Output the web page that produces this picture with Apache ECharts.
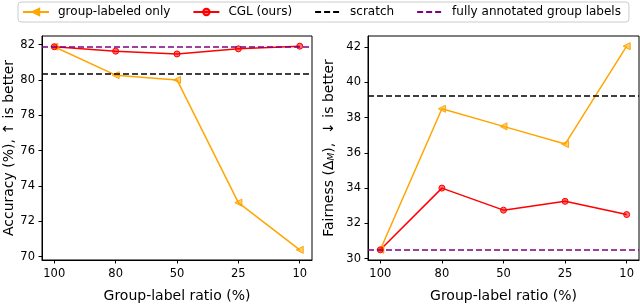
<!DOCTYPE html>
<html>
<head>
<meta charset="utf-8">
<script src="https://cdn.jsdelivr.net/npm/echarts@6/dist/echarts.min.js"></script>
<style>
html,body{margin:0;padding:0;background:#fff;}
#c{width:640px;height:308px;}
</style>
</head>
<body>
<div id="c"></div>
<script>
const ratios = ['100', '80', '50', '25', '10'];
const accOnly = [81.88, 80.27, 80.0, 73.05, 70.38];
const accCGL = [81.88, 81.63, 81.47, 81.76, 81.91];
const accScratch = 80.37;
const accFull = 81.87;
const fairOnly = [30.5, 38.5, 37.5, 36.5, 42.05];
const fairCGL = [30.5, 34.0, 32.75, 33.25, 32.5];
const fairScratch = 39.25;
const fairFull = 30.5;
const accTicks = [70, 72, 74, 76, 78, 80, 82];
const fairTicks = [30, 32, 34, 36, 38, 40, 42];

const FONT = 'DejaVu Sans';
const ORANGE = '#FFA500', RED = '#FF0000', BLACK = '#000000', PURPLE = '#800080';
const ORANGE_FILL = 'rgba(255,165,0,0.55)', RED_FILL = 'rgba(255,0,0,0.55)';
const TICKF = 11.5, TITLEF = 14;

function range(arrs) {
  const all = [].concat(...arrs);
  const lo = Math.min(...all), hi = Math.max(...all);
  const m = (hi - lo) * 0.05;
  return [lo - m, hi + m];
}
const accRange = range([accOnly, accCGL, [accScratch, accFull]]);
const fairRange = range([fairOnly, fairCGL, [fairScratch, fairFull]]);
const xIdx = ratios.map((_, i) => i);

function xAxis(gi) {
  return {
    type: 'value', gridIndex: gi, min: -0.2, max: 4.2,
    splitLine: {show: false},
    axisLine: {show: true, onZero: false, lineStyle: {color: BLACK, width: 1}},
    axisTick: {show: true, customValues: xIdx, length: 3.5, lineStyle: {color: BLACK, width: 1}},
    axisLabel: {customValues: xIdx, formatter: v => ratios[Math.round(v)], color: '#000', fontFamily: FONT, fontSize: TICKF, margin: 8},
    name: 'Group-label ratio (%)', nameLocation: 'middle', nameGap: 29,
    nameTextStyle: {color: '#000', fontFamily: FONT, fontSize: TITLEF}
  };
}
function yAxis(gi, r, ticks, name, gap, rich) {
  const o = {
    type: 'value', gridIndex: gi, min: r[0], max: r[1],
    splitLine: {show: false},
    axisLine: {show: true, onZero: false, lineStyle: {color: BLACK, width: 1}},
    axisTick: {show: true, customValues: ticks, length: 3.5, lineStyle: {color: BLACK, width: 1}},
    axisLabel: {customValues: ticks, color: '#000', fontFamily: FONT, fontSize: TICKF, margin: 7},
    name: name, nameLocation: 'middle', nameGap: gap,
    nameTextStyle: {color: '#000', fontFamily: FONT, fontSize: TITLEF}
  };
  if (rich) o.nameTextStyle.rich = rich;
  return o;
}
function lineSeries(name, color, fill, sym, rot, vals, xi, size) {
  return {
    name: name, type: 'line', xAxisIndex: xi, yAxisIndex: xi,
    data: vals.map((v, i) => [i, v]),
    symbol: sym, symbolSize: size, symbolRotate: rot,
    lineStyle: {color: color, width: 1.5},
    itemStyle: {color: fill, borderColor: color, borderWidth: 1, opacity: 1},
    z: 3,
    emphasis: {disabled: true}
  };
}
function hline(name, color, val, xi) {
  return {
    name: name, type: 'line', xAxisIndex: xi, yAxisIndex: xi,
    data: [], symbol: 'none',
    lineStyle: {color: color, width: 1.5, type: [6, 3]},
    itemStyle: {color: color},
    markLine: {
      silent: true, symbol: 'none', label: {show: false},
      lineStyle: {color: color, width: 1.5, type: [6, 3]},
      data: [{yAxis: val}]
    },
    z: 4
  };
}

const chart = echarts.init(document.getElementById('c'), null, {renderer: 'canvas'});
const gridBase = {show: true, borderColor: BLACK, borderWidth: 1, backgroundColor: 'transparent', containLabel: false};
const hidden = {color: 'rgba(0,0,0,0)', borderColor: 'rgba(0,0,0,0)', opacity: 0};
chart.setOption({
  animation: false,
  backgroundColor: '#fff',
  textStyle: {fontFamily: FONT},
  legend: {
    top: 2, left: 18,
    padding: [4, 8, 4, 4],
    borderColor: '#cccccc', borderWidth: 1, borderRadius: 3,
    itemWidth: 26, itemHeight: 8, itemGap: 22,
    textStyle: {fontFamily: FONT, fontSize: 12, color: '#000', padding: [0, 0, 0, 4]},
    data: [
      'group-labeled only',
      'CGL (ours)',
      {name: 'scratch', itemStyle: hidden},
      {name: 'fully annotated group labels', itemStyle: hidden}
    ]
  },
  grid: [
    Object.assign({left: 42, right: 328, top: 36, bottom: 39}, gridBase),
    Object.assign({left: 368, right: 1, top: 36, bottom: 40}, gridBase)
  ],
  xAxis: [xAxis(0), xAxis(1)],
  yAxis: [
    yAxis(0, accRange, accTicks, 'Accuracy (%), ↑ is better', 25),
    yAxis(1, fairRange, fairTicks, '{a|Fairness (Δ}{s|M}{a|),  ↓ is better}', 32, {
      a: {fontFamily: FONT, fontSize: TITLEF, color: '#000'},
      s: {fontFamily: FONT, fontSize: 9, fontStyle: 'italic', color: '#000', verticalAlign: 'bottom', padding: [5, 0, 0, 0]}
    })
  ],
  series: [
    lineSeries('group-labeled only', ORANGE, ORANGE_FILL, 'triangle', 90, accOnly, 0, 7),
    lineSeries('CGL (ours)', RED, RED_FILL, 'circle', 0, accCGL, 0, 6),
    hline('scratch', BLACK, accScratch, 0),
    hline('fully annotated group labels', PURPLE, accFull, 0),
    lineSeries('group-labeled only', ORANGE, ORANGE_FILL, 'triangle', 90, fairOnly, 1, 7),
    lineSeries('CGL (ours)', RED, RED_FILL, 'circle', 0, fairCGL, 1, 6),
    hline('scratch', BLACK, fairScratch, 1),
    hline('fully annotated group labels', PURPLE, fairFull, 1)
  ]
});
</script>
</body>
</html>
